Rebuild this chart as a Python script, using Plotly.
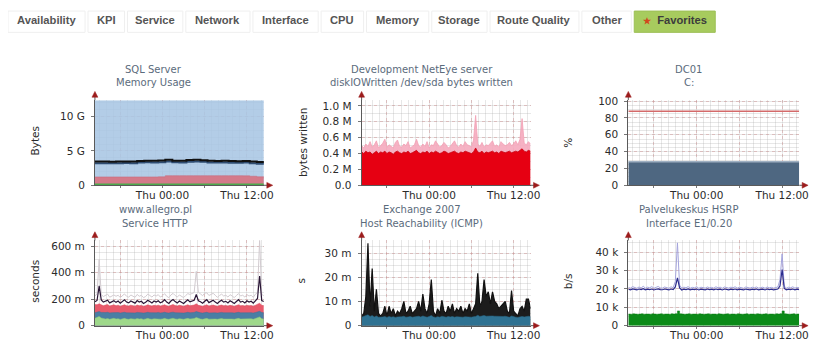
import plotly.graph_objects as go

PAGE_W, PAGE_H = 834, 359
OFF = 8  # page body margin of the rendered html
W, H = PAGE_W - 2 * OFF, PAGE_H - 2 * OFF  # figure size so the page is exactly 834x359

# ---------------- data ----------------
tab_labels = ["Availability", "KPI", "Service", "Network", "Interface", "CPU",
              "Memory", "Storage", "Route Quality", "Other", "Favorites"]

x_tick_vals = [-6, 0, 6, 12]
x_tick_text = ["", "Thu 00:00", "", "Thu 12:00"]

# chart 1: SQL Server memory usage (GB), hourly from -9.6h to +14.4h around Thu 00:00
hours_1h = [-9.6, -8.6, -7.6, -6.6, -5.6, -4.6, -3.6, -2.6, -1.6, -0.6, 0.4, 1.4, 2.4,
            3.4, 4.4, 5.4, 6.4, 7.4, 8.4, 9.4, 10.4, 11.4, 12.4, 13.4, 14.4]
sql_total = [12.3] * 25
sql_used = [3.46, 3.46, 3.44, 3.46, 3.48, 3.46, 3.54, 3.58, 3.56, 3.60, 3.72, 3.58, 3.56,
            3.68, 3.70, 3.66, 3.56, 3.54, 3.56, 3.52, 3.51, 3.54, 3.46, 3.38, 3.26]
sql_cache = [3.22, 3.22, 3.20, 3.22, 3.24, 3.22, 3.30, 3.34, 3.32, 3.36, 3.47, 3.34, 3.32,
             3.44, 3.46, 3.42, 3.32, 3.30, 3.32, 3.28, 3.27, 3.30, 3.22, 3.14, 3.02]
sql_other = [1.22, 1.22, 1.22, 1.22, 1.22, 1.22, 1.22, 1.22, 1.22, 1.24, 1.40, 1.40, 1.40,
             1.40, 1.40, 1.40, 1.40, 1.40, 1.40, 1.40, 1.40, 1.38, 1.32, 1.24, 1.12]
sql_free = [0.12] * 25

# chart 3: DC01 C: disk usage (%)
dc_hours = [-9.6, 14.4]
dc_used = [28, 28]
dc_threshold = [88, 88]

# 0.3h sampled series (81 points, -9.6h .. +14.4h)
# chart 2: NetEye disk IO written (MB)
io_avg = [0.42, 0.40, 0.43, 0.41, 0.42, 0.39, 0.41, 0.43, 0.40, 0.42,
          0.41, 0.43, 0.40, 0.42, 0.41, 0.39, 0.42, 0.43, 0.41, 0.40,
          0.42, 0.41, 0.43, 0.40, 0.41, 0.42, 0.44, 0.41, 0.40, 0.42,
          0.41, 0.43, 0.40, 0.42, 0.41, 0.43, 0.42, 0.40, 0.41, 0.43,
          0.42, 0.40, 0.41, 0.42, 0.43, 0.41, 0.40, 0.42, 0.41, 0.43,
          0.42, 0.41, 0.40, 0.42, 0.47, 0.42, 0.41, 0.43, 0.40, 0.42,
          0.41, 0.42, 0.43, 0.41, 0.42, 0.40, 0.43, 0.42, 0.41, 0.42,
          0.43, 0.41, 0.42, 0.43, 0.42, 0.44, 0.46, 0.43, 0.42, 0.44, 0.43]
io_max = [0.50, 0.47, 0.52, 0.49, 0.55, 0.48, 0.51, 0.56, 0.47, 0.50,
          0.53, 0.58, 0.48, 0.51, 0.49, 0.47, 0.54, 0.57, 0.49, 0.48,
          0.52, 0.50, 0.55, 0.47, 0.49, 0.51, 0.58, 0.50, 0.48, 0.52,
          0.49, 0.55, 0.47, 0.51, 0.50, 0.56, 0.52, 0.48, 0.50, 0.54,
          0.51, 0.47, 0.49, 0.53, 0.56, 0.50, 0.48, 0.52, 0.49, 0.55,
          0.51, 0.50, 0.48, 0.57, 0.88, 0.52, 0.49, 0.54, 0.48, 0.51,
          0.50, 0.53, 0.56, 0.49, 0.51, 0.48, 0.55, 0.52, 0.50, 0.51,
          0.54, 0.50, 0.52, 0.56, 0.51, 0.58, 0.84, 0.53, 0.51, 0.55, 0.52]

# chart 4: allegro HTTP response time (ms), stacked components
http_connect = [55, 62, 70, 58, 52, 50, 54, 48, 52, 56,
                50, 53, 47, 52, 55, 50, 48, 53, 51, 49,
                54, 50, 52, 47, 51, 55, 50, 48, 52, 50,
                53, 49, 51, 55, 50, 48, 52, 56, 51, 49,
                53, 50, 48, 52, 55, 50, 51, 54, 62, 53,
                50, 48, 52, 55, 49, 51, 53, 50, 48, 52,
                54, 50, 51, 49, 53, 50, 48, 52, 55, 50,
                51, 49, 53, 50, 52, 48, 54, 56, 66, 52, 50]
http_first = [98, 102, 106, 100, 97, 99, 101, 96, 98, 100,
              97, 99, 95, 98, 101, 97, 96, 99, 98, 96,
              100, 97, 98, 95, 97, 101, 98, 96, 99, 97,
              100, 96, 98, 101, 97, 95, 99, 102, 98, 96,
              99, 97, 95, 98, 101, 97, 98, 100, 106, 99,
              97, 95, 98, 101, 96, 98, 100, 97, 95, 98,
              100, 97, 98, 96, 99, 97, 95, 98, 101, 97,
              98, 96, 99, 97, 98, 95, 100, 102, 108, 99, 97]
http_transfer = [160, 158, 165, 155, 150, 156, 160, 148, 152, 158,
                 150, 155, 146, 152, 158, 150, 148, 155, 152, 147,
                 156, 150, 153, 146, 150, 157, 152, 148, 154, 150,
                 155, 148, 152, 158, 150, 146, 154, 160, 152, 148,
                 154, 150, 146, 152, 158, 150, 152, 156, 165, 154,
                 150, 146, 152, 158, 148, 152, 156, 150, 146, 152,
                 156, 150, 152, 148, 154, 150, 146, 152, 158, 150,
                 152, 148, 154, 150, 152, 146, 156, 160, 170, 154, 150]
http_avg = [180, 190, 300, 195, 178, 185, 192, 172, 180, 188,
            176, 186, 170, 182, 195, 178, 172, 186, 180, 170,
            190, 178, 184, 168, 176, 192, 182, 172, 186, 178,
            188, 172, 180, 196, 178, 168, 186, 198, 182, 172,
            186, 178, 168, 182, 196, 180, 184, 192, 235, 188,
            180, 170, 184, 196, 174, 182, 192, 178, 168, 182,
            192, 178, 184, 172, 188, 178, 168, 182, 196, 178,
            184, 172, 188, 178, 184, 170, 192, 205, 375, 190, 182]
http_max = [225, 240, 500, 235, 220, 230, 238, 215, 225, 232,
            222, 230, 212, 228, 240, 222, 215, 232, 226, 214,
            236, 222, 230, 212, 220, 238, 228, 216, 232, 224,
            234, 216, 226, 242, 222, 212, 232, 244, 228, 216,
            232, 224, 212, 228, 242, 236, 245, 250, 410, 252,
            240, 226, 246, 248, 228, 236, 244, 230, 214, 228,
            238, 224, 230, 216, 234, 224, 212, 228, 242, 224,
            230, 216, 234, 224, 230, 214, 238, 250, 650, 236, 226]

# chart 5: Exchange ICMP round trip time (ms)
rta_max = [4, 5, 12, 34, 8, 23.6, 6, 15, 5, 4,
           5, 8, 4, 8, 5, 7, 4, 6, 5, 7,
           10, 5, 6, 8, 5, 6, 7, 10, 6, 13,
           7, 5, 9, 19, 6, 4, 7, 5, 10.5, 6,
           5, 8, 6, 9, 5, 7, 6, 8, 5, 7,
           6, 9, 5, 7, 9, 21.6, 8, 10, 19, 12,
           14, 9, 14, 10, 9, 7, 8, 9, 10, 6,
           5, 14.5, 6, 5, 4, 7, 8, 6, 11, 11, 7]
rta_avg = [3.5, 3.8, 4.0, 4.5, 3.8, 4.2, 3.6, 4.0, 3.5, 3.4,
           3.6, 3.8, 3.4, 3.8, 3.5, 3.7, 3.4, 3.6, 3.5, 3.7,
           3.9, 3.5, 3.6, 3.8, 3.5, 3.6, 3.7, 3.9, 3.6, 4.0,
           3.7, 3.5, 3.8, 4.2, 3.6, 3.4, 3.7, 3.5, 3.9, 3.6,
           3.5, 3.8, 3.6, 3.8, 3.5, 3.7, 3.6, 3.8, 3.5, 3.7,
           3.6, 3.8, 3.5, 3.7, 3.8, 4.3, 3.8, 4.0, 4.2, 3.9,
           4.0, 3.8, 4.0, 3.9, 3.8, 3.7, 3.8, 3.8, 3.9, 3.6,
           3.5, 4.0, 3.6, 3.5, 3.4, 3.7, 3.8, 3.6, 3.9, 3.9, 3.7]

# chart 6: HSRP interface traffic (kb/s)
if_in = [6.3, 6.2, 6.4, 6.3, 6.2, 6.3, 6.4, 6.2, 6.3, 6.3,
         6.2, 6.4, 6.3, 6.2, 6.3, 6.4, 6.2, 6.3, 6.3, 6.2,
         6.4, 6.3, 6.5, 8.0, 6.4, 6.3, 6.2, 6.3, 6.4, 6.2,
         6.3, 6.3, 6.2, 6.4, 6.3, 6.2, 6.3, 6.4, 6.2, 6.3,
         6.3, 6.2, 6.4, 6.3, 6.2, 6.3, 6.4, 6.2, 6.3, 6.3,
         6.2, 6.4, 6.3, 6.2, 6.3, 6.4, 6.2, 6.3, 6.3, 6.2,
         6.4, 6.3, 6.2, 6.3, 6.4, 6.2, 6.3, 6.3, 6.2, 6.4,
         6.3, 6.5, 8.0, 6.4, 6.3, 6.2, 6.3, 6.4, 6.2, 6.3, 6.3]
if_out = [19.8, 19.5, 20.0, 19.7, 19.4, 19.9, 19.6, 20.1, 19.5, 19.8,
          19.6, 19.9, 19.4, 19.8, 20.0, 19.6, 19.5, 19.9, 19.7, 19.4,
          19.9, 19.6, 21.0, 26.0, 20.5, 19.4, 19.8, 19.6, 20.0, 19.5,
          19.8, 19.6, 19.9, 19.4, 19.8, 19.7, 19.5, 19.9, 19.6, 19.8,
          19.5, 19.9, 19.6, 19.8, 19.4, 19.9, 19.7, 19.5, 19.8, 19.6,
          19.9, 19.5, 19.8, 19.6, 19.4, 19.9, 19.7, 19.5, 19.8, 19.6,
          19.9, 19.5, 19.7, 19.8, 19.4, 19.9, 19.6, 19.8, 19.5, 19.7,
          19.9, 21.5, 30.5, 20.2, 19.5, 19.8, 19.6, 19.9, 19.5, 19.8, 19.6]
if_out_max = [20.8, 20.4, 21.2, 20.6, 20.3, 21.0, 20.5, 21.4, 20.4, 20.9,
              20.6, 21.2, 20.3, 20.8, 21.3, 20.5, 20.4, 21.0, 20.7, 20.3,
              21.1, 20.6, 24.0, 45.0, 22.0, 20.4, 20.9, 20.6, 21.2, 20.4,
              20.8, 20.6, 21.1, 20.3, 20.9, 20.7, 20.4, 21.0, 20.6, 20.8,
              20.4, 21.1, 20.6, 20.9, 20.3, 21.0, 20.7, 20.4, 20.9, 20.6,
              21.1, 20.4, 20.9, 20.6, 20.3, 21.0, 20.7, 20.4, 20.9, 20.6,
              21.0, 20.4, 20.7, 20.9, 20.3, 21.0, 20.6, 20.8, 20.4, 20.7,
              21.0, 25.0, 39.0, 21.5, 20.4, 20.9, 20.6, 21.1, 20.4, 20.8, 20.6]

hours_03 = [round(-9.6 + 0.3 * i, 2) for i in range(len(io_avg))]

# ---------------- helpers ----------------
def px(x):
    return (x - OFF) / W

def py(y):
    return 1 - (y - OFF) / H

FONT = "DejaVu Sans"
TXT = "#2b2b2b"
TITLE_C = "#5b6b7c"

charts = [
    # (xpix0, xpix1, ytop, ybot) in screenshot pixels
    (96, 267, 98, 186),
    (366, 537, 98, 186),
    (636, 809, 98, 186),
    (96, 267, 243, 331),
    (366, 537, 243, 331),
    (636, 809, 243, 331),
]

fig = go.Figure()

def xa(i):
    return "x" if i == 1 else f"x{i}"

def ya(i):
    return "y" if i == 1 else f"y{i}"

# chart 1
fig.add_trace(go.Scatter(x=hours_1h, y=sql_total, fill="tozeroy", mode="lines",
                         line=dict(color="#a9c6e2", width=0.5), fillcolor="rgba(168,198,228,0.88)",
                         xaxis=xa(1), yaxis=ya(1)))
fig.add_trace(go.Scatter(x=hours_1h, y=sql_other, fill="tozeroy", mode="lines", line_shape="hv",
                         line=dict(color="#c86676", width=0.5), fillcolor="#d47a8a",
                         xaxis=xa(1), yaxis=ya(1)))
fig.add_trace(go.Scatter(x=hours_1h, y=sql_free, mode="lines",
                         line=dict(color="#4caa4c", width=2), xaxis=xa(1), yaxis=ya(1)))
fig.add_trace(go.Scatter(x=hours_1h, y=sql_cache, mode="lines", line_shape="hv",
                         line=dict(color="#2e4c72", width=2), xaxis=xa(1), yaxis=ya(1)))
fig.add_trace(go.Scatter(x=hours_1h, y=sql_used, mode="lines", line_shape="hv",
                         line=dict(color="#111111", width=2), xaxis=xa(1), yaxis=ya(1)))

# chart 2
fig.add_trace(go.Scatter(x=hours_03, y=io_max, fill="tozeroy", mode="lines",
                         line=dict(color="#f2a0b4", width=0.8), fillcolor="rgba(245,170,190,0.9)",
                         xaxis=xa(2), yaxis=ya(2)))
fig.add_trace(go.Scatter(x=hours_03, y=io_avg, fill="tozeroy", mode="lines",
                         line=dict(color="#c80010", width=0.8), fillcolor="#e60012",
                         xaxis=xa(2), yaxis=ya(2)))

# chart 3
fig.add_trace(go.Scatter(x=dc_hours, y=dc_used, fill="tozeroy", mode="lines",
                         line=dict(color="#9fb0c2", width=1.5), fillcolor="#4e6781",
                         xaxis=xa(3), yaxis=ya(3)))
fig.add_trace(go.Scatter(x=dc_hours, y=dc_threshold, mode="lines",
                         line=dict(color="#d46a6a", width=1.5), xaxis=xa(3), yaxis=ya(3)))

# chart 4
fig.add_trace(go.Scatter(x=hours_03, y=http_max, mode="lines",
                         line=dict(color="#d2cbd0", width=1), xaxis=xa(4), yaxis=ya(4)))
fig.add_trace(go.Scatter(x=hours_03, y=http_transfer, fill="tozeroy", mode="lines",
                         line=dict(color="#e04a5e", width=0.5), fillcolor="#e85a6c",
                         xaxis=xa(4), yaxis=ya(4)))
fig.add_trace(go.Scatter(x=hours_03, y=http_first, fill="tozeroy", mode="lines",
                         line=dict(color="#3f7398", width=0.5), fillcolor="#4a7ea4",
                         xaxis=xa(4), yaxis=ya(4)))
fig.add_trace(go.Scatter(x=hours_03, y=http_connect, fill="tozeroy", mode="lines",
                         line=dict(color="#8ccc78", width=0.5), fillcolor="#9ed88a",
                         xaxis=xa(4), yaxis=ya(4)))
fig.add_trace(go.Scatter(x=hours_03, y=http_avg, mode="lines",
                         line=dict(color="#2a1636", width=1.2), xaxis=xa(4), yaxis=ya(4)))

# chart 5
fig.add_trace(go.Scatter(x=hours_03, y=rta_max, fill="tozeroy", mode="lines",
                         line=dict(color="#111111", width=1.2), fillcolor="#1c1c1c",
                         xaxis=xa(5), yaxis=ya(5)))
fig.add_trace(go.Scatter(x=hours_03, y=rta_avg, fill="tozeroy", mode="lines",
                         line=dict(color="#2b6c8c", width=0.5), fillcolor="#2f7292",
                         xaxis=xa(5), yaxis=ya(5)))

# chart 6
fig.add_trace(go.Scatter(x=hours_03, y=if_out_max, mode="lines",
                         line=dict(color="#a4a4dc", width=1), xaxis=xa(6), yaxis=ya(6)))
fig.add_trace(go.Scatter(x=hours_03, y=if_in, fill="tozeroy", mode="lines", line_shape="hv",
                         line=dict(color="#0a7a12", width=0.5), fillcolor="#0b8a18",
                         xaxis=xa(6), yaxis=ya(6)))
fig.add_trace(go.Scatter(x=hours_03, y=if_out, mode="lines",
                         line=dict(color="#2c2c8e", width=1.2), xaxis=xa(6), yaxis=ya(6)))

# y axes specs: (range, tickvals, ticktext, minor dtick)
y_specs = [
    ([0, 12.4], [0, 5, 10], ["0", "5 G", "10 G"], 1),
    ([0, 1.073], [0, 0.2, 0.4, 0.6, 0.8, 1.0], ["0.0", "0.2 M", "0.4 M", "0.6 M", "0.8 M", "1.0 M"], 0.1),
    ([0, 101.2], [0, 20, 40, 60, 80, 100], ["0", "20", "40", "60", "80", "100"], 5),
    ([0, 644], [0, 200, 400, 600], ["0", "200 m", "400 m", "600 m"], 50),
    ([0, 35.2], [0, 10, 20, 30], ["0", "10 m", "20 m", "30 m"], 2.5),
    ([0, 46.3], [0, 10, 20, 30, 40], ["0", "10 k", "20 k", "30 k", "40 k"], 5),
]

layout = dict(
    width=W, height=H, margin=dict(l=0, r=0, t=0, b=0),
    paper_bgcolor="white", plot_bgcolor="white", showlegend=False,
    font=dict(family=FONT, size=10, color=TXT),
)

MAJ_GRID = "rgba(205,140,140,0.45)"
MIN_GRID = "rgba(170,170,170,0.28)"

for i, (x0, x1, yt, yb) in enumerate(charts, start=1):
    rng, tv, tt, mdt = y_specs[i - 1]
    kx = "xaxis" if i == 1 else f"xaxis{i}"
    ky = "yaxis" if i == 1 else f"yaxis{i}"
    layout[kx] = dict(
        domain=[px(x0), px(x1)], anchor=ya(i), range=[-9.6, 14.4],
        tickmode="array", tickvals=x_tick_vals, ticktext=x_tick_text,
        showgrid=True, gridcolor=MAJ_GRID, griddash="dot", gridwidth=1,
        showline=True, linecolor="#5a5a5a", linewidth=1, zeroline=False,
        ticks="outside", ticklen=2, tickcolor="#777",
        tickfont=dict(family=FONT, size=10.5, color=TXT), ticklabelstandoff=-2,
        minor=dict(tickmode="linear", tick0=0, dtick=1, showgrid=True,
                   gridcolor=MIN_GRID, griddash="solid", ticks=""),
        fixedrange=True,
    )
    layout[ky] = dict(
        domain=[py(yb), py(yt)], anchor=xa(i), range=rng,
        tickmode="array", tickvals=tv, ticktext=tt,
        showgrid=True, gridcolor=MAJ_GRID, griddash="dot", gridwidth=1,
        showline=True, linecolor="#5a5a5a", linewidth=1, zeroline=False,
        ticks="outside", ticklen=3, tickcolor="#777",
        tickfont=dict(family=FONT, size=10.5, color=TXT), ticklabelstandoff=4,
        minor=dict(tickmode="linear", tick0=0, dtick=mdt, showgrid=True,
                   gridcolor=MIN_GRID, griddash="solid", ticks=""),
        fixedrange=True,
    )

fig.update_layout(**layout)

shapes = []
annotations = []

# axis arrows
ARROW = "#9c1c1c"
for (x0, x1, yt, yb) in charts:
    shapes.append(dict(type="line", xref="paper", yref="paper",
                       x0=px(x0), x1=px(x0), y0=py(yt), y1=py(yt - 5),
                       line=dict(color="#5a5a5a", width=1)))
    shapes.append(dict(type="path", xref="paper", yref="paper",
                       path=f"M {px(x0-3)} {py(yt-3)} L {px(x0)} {py(yt-9)} L {px(x0+3)} {py(yt-3)} Z",
                       fillcolor=ARROW, line=dict(color=ARROW, width=0.5)))
    shapes.append(dict(type="line", xref="paper", yref="paper",
                       x0=px(x1), x1=px(x1 + 4), y0=py(yb), y1=py(yb),
                       line=dict(color="#5a5a5a", width=1)))
    shapes.append(dict(type="path", xref="paper", yref="paper",
                       path=f"M {px(x1+3)} {py(yb-3)} L {px(x1+9)} {py(yb)} L {px(x1+3)} {py(yb+3)} Z",
                       fillcolor=ARROW, line=dict(color=ARROW, width=0.5)))

# chart titles
titles = [
    (155, 66, "SQL Server", "Memory Usage"),
    (427, 66, "Development NetEye server", "diskIOWritten /dev/sda bytes written"),
    (697, 66, "DC01", "C:"),
    (157, 211, "www.allegro.pl", "Service HTTP"),
    (427, 211, "Exchange 2007", "Host Reachability (ICMP)"),
    (697, 211, "Palvelukeskus HSRP", "Interface E1/0.20"),
]
for cx, cy, t1, t2 in titles:
    for k, t in enumerate((t1, t2)):
        annotations.append(dict(x=px(cx), y=py(cy + 14 * k), xref="paper", yref="paper",
                                text=t, showarrow=False, xanchor="center", yanchor="middle",
                                font=dict(family=FONT, size=10, color=TITLE_C)))

# y-axis labels
ylabels = [(35, 140, "Bytes"), (306, 142, "bytes written"), (575, 142, "%"),
           (35, 285, "seconds"), (305, 285, "s"), (575, 285, "b/s")]
for cx, cy, t in ylabels:
    annotations.append(dict(x=px(cx), y=py(cy), xref="paper", yref="paper", text=t,
                            showarrow=False, textangle=-90, xanchor="center", yanchor="middle",
                            font=dict(family=FONT, size=10.5, color=TXT)))

# tab bar
tab_boxes = [(8, 86), (89, 126), (129, 185), (188, 253), (256, 322), (325, 368),
             (371, 434), (437, 493), (496, 586), (589, 639), (642, 724)]
for lbl, (bx0, bx1) in zip(tab_labels, tab_boxes):
    fav = lbl == "Favorites"
    shapes.append(dict(type="rect", xref="paper", yref="paper",
                       x0=px(bx0), x1=px(bx1), y0=py(28), y1=py(6),
                       fillcolor="#a7cb5e" if fav else "white",
                       line=dict(color="#9cbf55" if fav else "#efefef", width=1)))
    text = ("<span style='color:#d2481c;font-size:9px'>★</span>  " + lbl) if fav else lbl
    annotations.append(dict(x=px((bx0 + bx1) / 2), y=py(15), xref="paper", yref="paper",
                            text=text, showarrow=False, xanchor="center", yanchor="middle",
                            font=dict(family="Liberation Sans Narrow, Liberation Sans", size=11.2,
                                      color="#3c3c3c" if fav else "#555555", weight="bold")))

fig.update_layout(shapes=shapes, annotations=annotations)

fig.write_html("out.html")
